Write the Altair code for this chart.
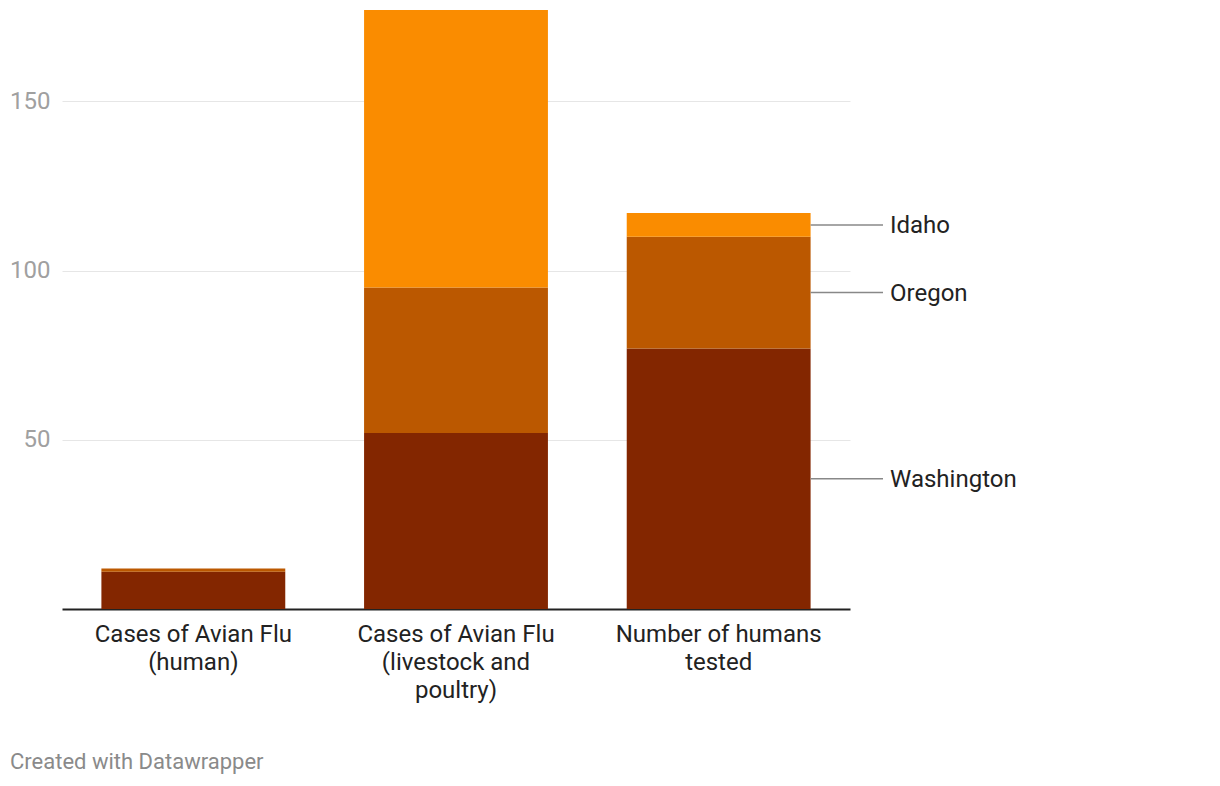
import altair as alt
import pandas as pd

categories = ["Cases of Avian Flu|(human)", "Cases of Avian Flu|(livestock and|poultry)", "Number of humans|tested"]
states = ["Washington", "Oregon", "Idaho"]
washington = [11, 52, 77]
oregon = [1, 43, 33]
idaho = [0, 82, 7]
colors = ["#832600", "#bb5800", "#fa8c00"]
y_ticks = [50, 100, 150]

series = {"Washington": washington, "Oregon": oregon, "Idaho": idaho}
rows = []
for si, s in enumerate(states):
    for ci, c in enumerate(categories):
        rows.append({"category": c, "state": s, "value": series[s][ci], "rank": si})
df = pd.DataFrame(rows)

# label positions: middle of each segment of the last bar
last = categories[-1]
cum = 0
lab_rows = []
for s in states:
    v = series[s][-1]
    lab_rows.append({"category": last, "state": s, "mid": cum + v / 2})
    cum += v
labels = pd.DataFrame(lab_rows)

FONT = "Roboto"
FS = 24
ymax = max(w + o + i for w, o, i in zip(washington, oregon, idaho))

xenc = alt.X("category:N", sort=categories, title=None,
             scale=alt.Scale(paddingInner=0.3, paddingOuter=0.15),
             axis=alt.Axis(labelExpr="split(datum.label, '|')", labelAngle=0,
                           labelFontSize=FS, labelColor="#222", labelFont=FONT,
                           labelLineHeight=28, labelPadding=13, ticks=False,
                           labelLimit=0,
                           domainColor="#222", domainWidth=2, labelBaseline="top"))
yscale = alt.Scale(domain=[0, ymax], nice=False)

bars = alt.Chart(df).mark_bar().encode(
    x=xenc,
    y=alt.Y("value:Q", stack="zero", scale=yscale, title=None,
            axis=alt.Axis(values=y_ticks, labelFontSize=FS, labelColor="#a0a0a0",
                          labelFont=FONT, grid=True, gridColor="#e6e6e6",
                          domain=False, ticks=False, labelPadding=12)),
    color=alt.Color("state:N", scale=alt.Scale(domain=states, range=colors), legend=None),
    order=alt.Order("rank:Q", sort="ascending"),
)

rules = alt.Chart(labels).mark_rule(color="#888", strokeWidth=1.5).encode(
    x=alt.X("category:N", sort=categories, bandPosition=1),
    x2=alt.value(821),
    y=alt.Y("mid:Q", scale=yscale),
)

texts = alt.Chart(labels).mark_text(align="left", baseline="middle", fontSize=FS,
                                    font=FONT, color="#222", dy=1.5).encode(
    x=alt.value(828),
    y=alt.Y("mid:Q", scale=yscale),
    text="state:N",
)

footer = alt.Chart(pd.DataFrame({"t": ["Created with Datawrapper"]})).mark_text(
    align="left", baseline="middle", fontSize=22, font=FONT, color="#8a8a8a"
).encode(x=alt.value(-52), y=alt.value(752), text="t:N")

chart = alt.layer(bars, rules, texts, footer).properties(
    width=788, height=599,
    padding={"left": 54, "top": 2, "right": 350, "bottom": 168},
    autosize=alt.AutoSizeParams(type="none"),
).configure(background="white").configure_view(stroke=None)

chart.save("out.html", embed_options={"renderer": "svg", "actions": False})
